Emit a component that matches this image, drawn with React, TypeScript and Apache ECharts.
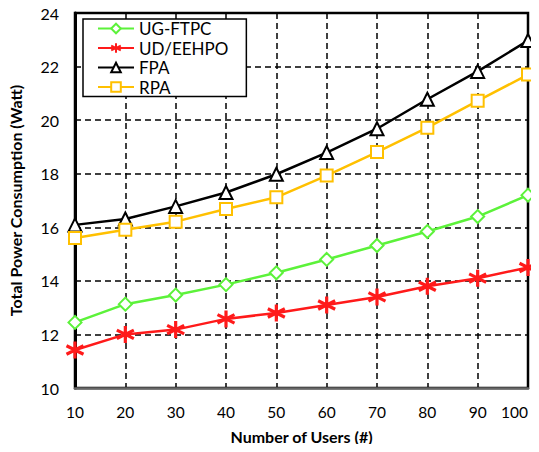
import React, { useEffect, useRef } from "react";
import * as echarts from "echarts";

const users = [10, 20, 30, 40, 50, 60, 70, 80, 90, 100];
const ugFtpc = [12.45, 13.13, 13.47, 13.86, 14.3, 14.8, 15.32, 15.84, 16.4, 17.2];
const udEehpo = [11.42, 12.0, 12.18, 12.58, 12.8, 13.1, 13.4, 13.8, 14.1, 14.5];
const fpa = [16.09, 16.31, 16.78, 17.3, 17.98, 18.79, 19.68, 20.78, 21.82, 22.97];
const rpa = [15.6, 15.91, 16.21, 16.68, 17.12, 17.93, 18.81, 19.72, 20.72, 21.7];

const FONT = "Lato, 'Noto Sans', sans-serif";
const asterisk = "path://M0,-10L0,10M-8.66,-5L8.66,5M-8.66,5L8.66,-5";

function pairs(vals: number[]) {
  return users.map((u, i) => [u, vals[i]]);
}

export default function App() {
  const ref = useRef<HTMLDivElement>(null);
  useEffect(() => {
    if (!ref.current) return;
    const chart = echarts.init(ref.current, undefined, { renderer: "svg" });
    const mk = (name: string, vals: number[], color: string, symbol: string, size: number, extra: any = {}) => ({
      name,
      type: "line",
      data: pairs(vals),
      symbol,
      symbolSize: size,
      lineStyle: { color, width: 2.5 },
      itemStyle: { color, borderColor: color, borderWidth: 1.8, ...extra },
      z: 3,
    });
    chart.setOption({
      animation: false,
      backgroundColor: "#fff",
      grid: {
        left: 75,
        right: 11,
        top: 13,
        bottom: 64,
        outerBoundsMode: "none",
        containLabel: false,
        show: true,
        borderColor: "#000",
        borderWidth: 2.5,
        backgroundColor: "transparent",
      },
      legend: {
        orient: "vertical",
        left: 83,
        top: 19,
        padding: [1, 18, 1, 14],
        itemGap: 2.5,
        itemWidth: 36,
        itemHeight: 12,
        backgroundColor: "#fff",
        borderColor: "#000",
        borderWidth: 1.5,
        textStyle: { fontFamily: FONT, fontSize: 17, color: "#000", lineHeight: 17 },
        data: ["UG-FTPC", "UD/EEHPO", "FPA", "RPA"],
      },
      xAxis: {
        type: "value",
        min: 10,
        max: 100,
        interval: 10,
        name: "Number of Users (#)",
        nameLocation: "middle",
        nameGap: 40,
        nameTextStyle: { fontFamily: FONT, fontSize: 16, fontWeight: "bold", color: "#000" },
        axisLine: { show: true, lineStyle: { color: "#666", width: 2.5 } },
        axisTick: { show: false },
        axisLabel: {
          fontFamily: FONT,
          fontSize: 15.5,
          color: "#000",
          margin: 16,
          alignMaxLabel: "right",
        },
        splitLine: { show: true, lineStyle: { color: "#000", width: 1.5, type: [6, 4] } },
      },
      yAxis: {
        type: "value",
        min: 10,
        max: 24,
        interval: 2,
        name: "Total Power Consumption (Watt)",
        nameLocation: "middle",
        nameGap: 52,
        nameTextStyle: { fontFamily: FONT, fontSize: 16, fontWeight: "bold", color: "#000" },
        axisLine: { show: true, lineStyle: { color: "#000", width: 3 } },
        axisTick: { show: false },
        axisLabel: { fontFamily: FONT, fontSize: 16, color: "#000", margin: 16 },
        splitLine: { show: true, lineStyle: { color: "#000", width: 1.5, type: [6, 4] } },
      },
      series: [
        mk("UG-FTPC", ugFtpc, "#5cf23a", "emptyDiamond", 13),
        mk("UD/EEHPO", udEehpo, "#ff1a1a", asterisk, 17, { borderWidth: 3.2 }),
        mk("FPA", fpa, "#000", "emptyTriangle", 13),
        mk("RPA", rpa, "#ffc000", "emptyRect", 12),
      ],
    });
    return () => chart.dispose();
  }, []);
  return <div ref={ref} style={{ width: 539, height: 452, margin: -8 }} />;
}
